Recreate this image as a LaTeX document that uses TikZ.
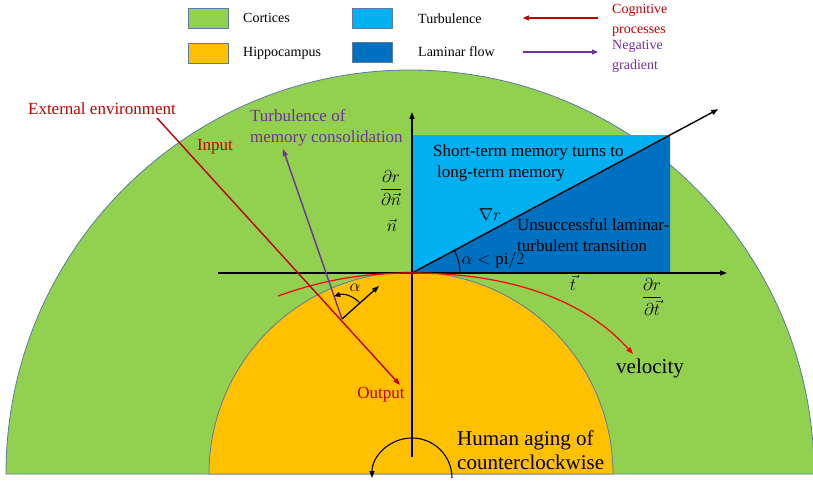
\documentclass[tikz,border=0pt]{standalone}
\usepackage{amsmath}
\usepackage{fontspec}
\setmainfont{Liberation Serif}
\usetikzlibrary{arrows.meta,calc}
\definecolor{cortex}{HTML}{92D050}
\definecolor{hippo}{HTML}{FFC000}
\definecolor{turb}{HTML}{00B0F0}
\definecolor{lamin}{HTML}{0070C0}
\definecolor{edgeblue}{HTML}{5B7BA3}
\definecolor{dred}{HTML}{C00000}
\definecolor{bred}{HTML}{FF0000}
\definecolor{purp}{HTML}{7030A0}
\tikzset{
  lbl/.style={font=\fontsize{17}{20}\selectfont, inner sep=0pt},
  mlbl/.style={font=\fontsize{17}{21}\selectfont, inner sep=0pt, align=left},
  big/.style={font=\fontsize{21}{24}\selectfont, inner sep=0pt, align=left},
  leg/.style={font=\fontsize{14}{20}\selectfont, inner sep=0pt, align=left},
  legbox/.style={draw=edgeblue, line width=0.8pt, minimum width=40pt, minimum height=20pt, inner sep=0pt},
  tip/.style={-{Triangle[length=7pt,width=5pt]}},
  axis/.style={line width=1.4pt, black, tip},
}
\begin{document}
\begin{tikzpicture}[x=1pt,y=1pt]
\useasboundingbox (0,0) rectangle (813,480);
\clip (0,0) rectangle (813,480);
% regions
\draw[fill=cortex, draw=edgeblue, line width=0.8pt] (6,6) arc[start angle=180,end angle=0,radius=404] -- cycle;
\draw[fill=hippo, draw=edgeblue, line width=0.8pt] (209,6) arc[start angle=180,end angle=0,radius=202] -- cycle;
% coordinates
\coordinate (O) at (412,207);
\coordinate (C) at (670,345);
\fill[turb] (O) rectangle (C);
\fill[lamin] (O) -- (C) -- (670,207) -- cycle;
% axes
\coordinate (hL) at (218,207);
\coordinate (hR) at (727,207);
\coordinate (vB) at (412,23);
\coordinate (vT) at (412,368);
\draw[axis] (hL) -- (hR);
\draw[axis] (vB) -- (vT);
\draw[axis] (O) -- ($(O)!1.187!(C)$);
\draw[line width=1pt] ($(O)+(48,0)$) arc[start angle=0,end angle=28.1,radius=48];
% red velocity curve
\coordinate (cL) at (278,184);
\coordinate (cR) at (633,126);
\draw[bred, line width=1.2pt, tip] (cL) .. controls (320,199) and (360,207) .. (O) .. controls (500,207) and (580,185) .. (cR);
% input/output
\coordinate (ext) at (157,362);
\coordinate (P) at (342,161);
\coordinate (out) at (400,95);
\coordinate (pur) at (283,331);
\coordinate (blk) at (379,194);
\draw[dred, line width=1.4pt, tip] (ext) -- (out);
\draw[purp, line width=1.4pt, tip] (P) -- (pur);
\draw[line width=1.3pt, tip] (P) -- (blk);
\draw[line width=1.1pt, -{Triangle[length=6pt,width=5pt]}] ($(P)+(41.7:24)$) arc[start angle=41.7,end angle=109,radius=24];
% small aging arc
\coordinate (ag) at (412,2);
\draw[line width=1.1pt, tip] ($(ag)+(40,0)$) arc[start angle=0,end angle=180,radius=40];
% labels
\node[lbl, text=dred] (extl) at (102,371) {External environment};
\node[lbl, text=dred] (inl) at (215,333) {Input};
\node[lbl, text=dred] (outl) at (381,85) {Output};
\node[mlbl, text=purp, anchor=west] (tmc) at (250,352.5) {Turbulence of\\memory consolidation};
\node[mlbl, anchor=west] (stm) at (433,317.5) {Short-term memory turns to\\\hspace{4pt}long-term memory};
\node[mlbl, anchor=west] (ult) at (517,244.5) {Unsuccessful laminar-\\turbulent transition};
\node[lbl] (nab) at (490,265) {$\nabla r$};
\node[lbl] (alp) at (493,220) {$\alpha < \mathrm{pi}/2$};
\node[lbl] (drn) at (391,292) {$\dfrac{\partial r}{\partial \vec{n}}$};
\node[lbl] (nv) at (392,255) {$\vec{n}$};
\node[lbl] (tv) at (573,197) {$\vec{t}$};
\node[lbl] (drt) at (652,183) {$\dfrac{\partial r}{\partial \vec{t}}$};
\node[lbl] (al2) at (355,192) {$\alpha$};
\node[big] (vel) at (650,112) {velocity};
\node[big, anchor=west] (hum) at (457,30) {Human aging of\\counterclockwise};
% legend
\node[legbox, fill=cortex] (b1) at (208,462) {};
\node[legbox, fill=hippo] (b2) at (208,427) {};
\node[legbox, fill=turb] (b3) at (372,462) {};
\node[legbox, fill=lamin] (b4) at (372,428) {};
\node[leg, anchor=west] (t1) at (243,462) {Cortices};
\node[leg, anchor=west] (t2) at (243,427) {Hippocampus};
\node[leg, anchor=west] (t3) at (418,461) {Turbulence};
\node[leg, anchor=west] (t4) at (418,428) {Laminar flow};
\coordinate (ra1) at (598,462);
\coordinate (ra2) at (523,462);
\coordinate (pa1) at (523,428);
\coordinate (pa2) at (598,428);
\draw[dred, line width=1.2pt, -{Triangle[length=6pt,width=5pt]}] (ra1) -- (ra2);
\draw[purp, line width=1.2pt, -{Triangle[length=6pt,width=5pt]}] (pa1) -- (pa2);
\node[leg, text=dred, anchor=west] (cog) at (612,460) {Cognitive\\processes};
\node[leg, text=purp, anchor=west] (neg) at (612,424) {Negative\\gradient};
\end{tikzpicture}
\end{document}
